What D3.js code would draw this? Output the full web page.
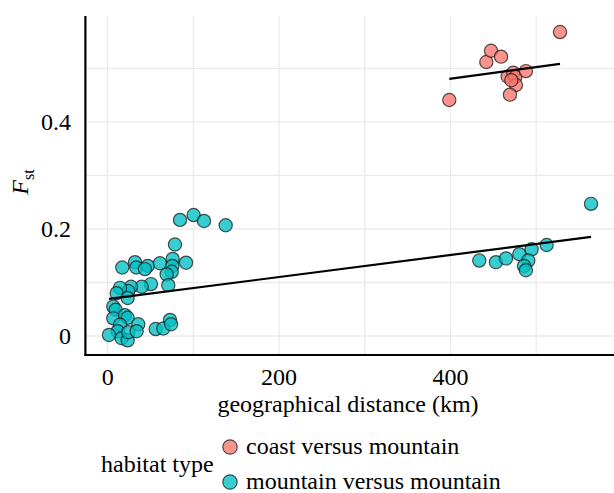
<!DOCTYPE html>
<html>
<head>
<meta charset="utf-8">
<script src="https://cdn.jsdelivr.net/npm/d3@7"></script>
</head>
<body style="margin:0;background:#fff">
<svg id="chart" width="614" height="493" style="display:block"></svg>
<script>
// ---- data ----
const seriesNames = ["coast versus mountain", "mountain versus mountain"];
const seriesColors = ["#F8766D", "#00BFC4"];

const coastX = [398.6, 441.8, 447.3, 459.0, 466.7, 473.3, 475.6, 476.4, 469.4, 488.0, 527.8, 471.0];
const coastY = [0.441, 0.512, 0.533, 0.522, 0.485, 0.492, 0.484, 0.469, 0.451, 0.495, 0.568, 0.478];

const mountainX = [564.0, 433.6, 453.0, 464.8, 480.3, 494.7, 512.2, 490.8, 485.8, 488.0,
  84.4, 100.3, 112.4, 137.7, 78.5, 91.4, 75.8, 17.0, 31.9, 33.4, 46.7, 43.5, 61.0, 75.4, 74.7,
  68.8, 70.7, 50.5, 39.7, 27.2, 24.0, 14.4, 10.5, 23.3, 6.5, 9.3, 6.5, 20.2, 23.3, 35.7, 14.4,
  11.7, 1.5, 16.3, 23.3, 24.0, 33.8, 56.0, 64.9, 72.7, 73.9];
const mountainY = [0.247, 0.141, 0.138, 0.145, 0.153, 0.162, 0.170, 0.141, 0.131, 0.123,
  0.217, 0.226, 0.215, 0.207, 0.171, 0.137, 0.144, 0.128, 0.138, 0.128, 0.131, 0.125, 0.136, 0.131, 0.120,
  0.115, 0.095, 0.097, 0.092, 0.092, 0.084, 0.090, 0.080, 0.071, 0.055, 0.049, 0.033, 0.039, 0.034, 0.022, 0.021,
  0.009, 0.002, -0.004, -0.008, 0.007, 0.009, 0.013, 0.014, 0.030, 0.022];

// linear fits (intercept, slope per km)
const fitIntercept = [0.3935, 0.0690];
const fitSlope = [0.000218, 0.000206];

const xTicks = [0, 200, 400];
const yTicks = [0, 0.2, 0.4];
const yTickLabels = ["0", "0.2", "0.4"];
const xTitle = "geographical distance (km)";
const legendTitle = "habitat type";

// ---- build ----
const FONT = "'Liberation Serif'";
const svg = d3.select("#chart");
const x = d3.scaleLinear().domain([-26, 590.8]).range([85.4, 614]);
const y = d3.scaleLinear().domain([-0.0355, 0.598]).range([355, 16]);

const groups = [
  { name: seriesNames[0], color: seriesColors[0], pts: coastX.map((v, i) => [v, coastY[i]]), a: fitIntercept[0], b: fitSlope[0] },
  { name: seriesNames[1], color: seriesColors[1], pts: mountainX.map((v, i) => [v, mountainY[i]]), a: fitIntercept[1], b: fitSlope[1] }
];

// grid
const g = svg.append("g");
g.selectAll("line.gx").data(x.ticks(6)).join("line")
  .attr("x1", d => x(d)).attr("x2", d => x(d))
  .attr("y1", y.range()[1]).attr("y2", y.range()[0])
  .attr("stroke", "#ebebeb").attr("stroke-width", 1.3);
g.selectAll("line.gy").data(y.ticks(7)).join("line")
  .attr("y1", d => y(d)).attr("y2", d => y(d))
  .attr("x1", x.range()[0]).attr("x2", x.range()[1])
  .attr("stroke", "#ebebeb").attr("stroke-width", 1.3);

// points
groups.forEach(grp => {
  svg.append("g").selectAll("circle").data(grp.pts).join("circle")
    .attr("cx", d => x(d[0])).attr("cy", d => y(d[1])).attr("r", 6.6)
    .attr("fill", grp.color).attr("fill-opacity", 0.78)
    .attr("stroke", "#1a1a1a").attr("stroke-opacity", 0.75).attr("stroke-width", 1.2);
});

// fit lines
const line = d3.line().x(d => x(d[0])).y(d => y(d[1]));
groups.forEach(grp => {
  const ext = d3.extent(grp.pts, d => d[0]);
  svg.append("path")
    .attr("d", line(ext.map(v => [v, grp.a + grp.b * v])))
    .attr("fill", "none").attr("stroke", "#000").attr("stroke-width", 2.2);
});

// axis lines
svg.append("line").attr("x1", x.range()[0]).attr("x2", x.range()[0])
  .attr("y1", y.range()[1]).attr("y2", y.range()[0] + 1)
  .attr("stroke", "#000").attr("stroke-width", 2.2);
svg.append("line").attr("x1", x.range()[0] - 1).attr("x2", x.range()[1])
  .attr("y1", y.range()[0]).attr("y2", y.range()[0])
  .attr("stroke", "#000").attr("stroke-width", 2.2);

// tick labels
svg.append("g").selectAll("text").data(xTicks).join("text")
  .attr("x", d => x(d)).attr("y", 385).attr("text-anchor", "middle")
  .style("font-family", FONT).attr("font-size", 24).text(d => d);
svg.append("g").selectAll("text").data(yTicks).join("text")
  .attr("x", 71).attr("y", d => y(d) + 8).attr("text-anchor", "end")
  .style("font-family", FONT).attr("font-size", 24).text((d, i) => yTickLabels[i]);

// axis titles
svg.append("text").attr("x", 348).attr("y", 412).attr("text-anchor", "middle")
  .style("font-family", FONT).attr("font-size", 24).text(xTitle);
const yt = svg.append("text").attr("transform", "translate(28,182) rotate(-90)")
  .attr("text-anchor", "middle").style("font-family", FONT).attr("font-size", 24);
yt.append("tspan").attr("font-style", "italic").text("F");
yt.append("tspan").attr("font-size", 16).attr("dy", 6).text("st");

// legend
svg.append("text").attr("x", 101).attr("y", 472).style("font-family", FONT)
  .attr("font-size", 24).text(legendTitle);
const leg = svg.append("g").selectAll("g").data(groups).join("g")
  .attr("transform", (d, i) => `translate(230,${447 + i * 35})`);
leg.append("circle").attr("r", 7.2).attr("fill", d => d.color).attr("fill-opacity", 0.78)
  .attr("stroke", "#1a1a1a").attr("stroke-opacity", 0.75).attr("stroke-width", 1.2);
leg.append("text").attr("x", 16).attr("y", 7).style("font-family", FONT)
  .attr("font-size", 24).text(d => d.name);
</script>
</body>
</html>
